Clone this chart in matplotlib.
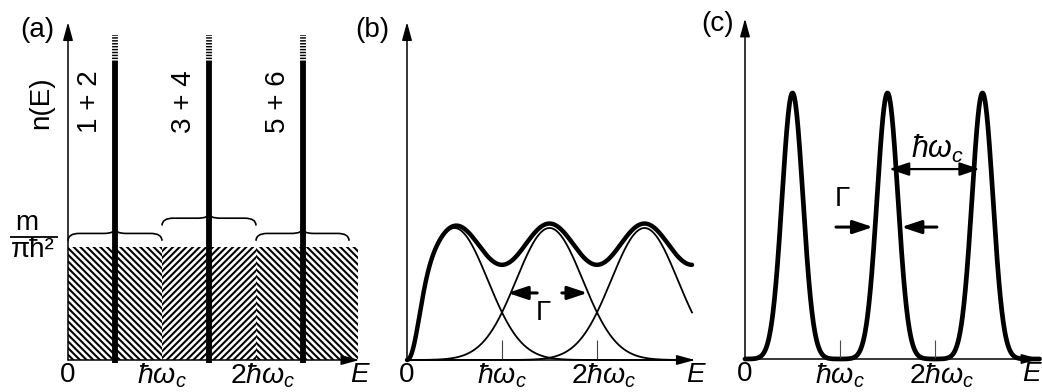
import numpy as np
import matplotlib
matplotlib.use("Agg")
import matplotlib.pyplot as plt
from matplotlib.path import Path
from matplotlib.patches import PathPatch

plt.rcParams['font.family'] = ['Liberation Sans', 'DejaVu Sans']
plt.rcParams['mathtext.fontset'] = 'custom'
plt.rcParams['mathtext.rm'] = 'Liberation Sans'
plt.rcParams['mathtext.it'] = 'Liberation Sans:italic'
plt.rcParams['mathtext.bf'] = 'Liberation Sans:bold'
plt.rcParams['hatch.linewidth'] = 1.5

# ---------------- data ----------------
# energies in units of hbar*omega_c
tick_pos = [0, 1, 2]
tick_labels = ['0', r'$\hbar\omega_c$', r'$2\hbar\omega_c$']

# panel (a): delta-like Landau levels on top of constant 2D DOS
levels_a = [0.5, 1.5, 2.5]
level_labels_a = ['1 + 2', '3 + 4', '5 + 6']
dos_level = 1.0                  # m / (pi hbar^2)
bar_top = 2.64
bar_dash_top = 2.88
hatch_edges = [0.0, 1.0, 2.0, 3.08]
hatch_styles = ['\\\\\\\\\\', '/////', '\\\\\\\\\\']
brace_left = [0.0, 1.0, 2.0]
brace_right = [1.0, 2.0, 2.99]
brace_level = [1.12, 1.255, 1.12]

# panel (b): broadened levels, width comparable to spacing
centers_b = [0.5, 1.5, 2.5, 3.5]
n_shown_b = 3
sigma_b = 0.35
onset_b = 0.14
gamma_b = [1.06, 1.90]            # arrow heads (half max)
gamma_b_tails = [1.37, 1.63]
gamma_b_y = 0.508

# panel (c): narrow levels
centers_c = [0.5, 1.5, 2.5]
sigma_c = 0.11
gamma_c = [1.347, 1.646]
gamma_c_tails = [0.958, 2.02]
gamma_c_y = 0.496
spacing_c = [1.516, 2.47]
spacing_c_y = 0.714

# ---------------- figure ----------------
W, H = 1042, 392
fig = plt.figure(figsize=(W / 100, H / 100), dpi=100)
FS = 20
FS_MATH = 20.5


def panel(px0, px1, ox, oy, sx, sy):
    ax = fig.add_axes([px0 / W, 0, (px1 - px0) / W, 1])
    ax.set_xlim((px0 - ox) / sx, (px1 - ox) / sx)
    ax.set_ylim((oy - H) / sy, oy / sy)
    ax.axis('off')
    ax.patch.set_alpha(0)
    return ax


def axes_arrows(ax, xtip, ytip):
    ap = dict(arrowstyle='-|>,head_length=1.1,head_width=0.3', color='black',
              lw=1.1, shrinkA=0, shrinkB=0, mutation_scale=10)
    ax.annotate('', xy=(0, ytip), xytext=(0, 0), arrowprops=ap)
    ax.annotate('', xy=(xtip, 0), xytext=(0, 0), arrowprops=ap)


def ticklabels(ax, sy, elabel_x):
    ytxt = -2 / sy
    for p, lab in zip(tick_pos, tick_labels):
        off = 0.07 if p == 2 else 0.0
        fs = FS if p == 0 else FS_MATH
        ax.text(p + off, ytxt, lab, fontsize=fs, ha='center', va='top')
    ax.text(elabel_x, ytxt, 'E', fontsize=FS, fontstyle='italic', ha='center', va='top')


def gauss(E, c, s):
    return np.exp(-(E - c) ** 2 / (2 * s ** 2))


def brace(ax, x0, x1, yf, drop=0.065, rise=0.045, r=0.12):
    xm = 0.5 * (x0 + x1)
    ye, yt = yf - drop, yf + rise
    verts = [(x0, ye), (x0, yf), (x0 + r, yf), (xm - r, yf),
             (xm, yf), (xm, yt), (xm, yf), (xm + r, yf),
             (x1 - r, yf), (x1, yf), (x1, ye)]
    codes = [Path.MOVETO, Path.CURVE3, Path.CURVE3, Path.LINETO,
             Path.CURVE3, Path.CURVE3, Path.CURVE3, Path.CURVE3,
             Path.LINETO, Path.CURVE3, Path.CURVE3]
    ax.add_patch(PathPatch(Path(verts, codes), fill=False, lw=1.2, color='black'))


# ---------- (a) ----------
sy_a = 113
axa = panel(0, 372, 68, 360, 94, sy_a)
for e0, e1, h in zip(hatch_edges[:-1], hatch_edges[1:], hatch_styles):
    axa.fill_between([e0, e1], 0, dos_level, facecolor='white', edgecolor='black',
                     hatch=h, linewidth=0)
for b0, b1, yl in zip(brace_left, brace_right, brace_level):
    brace(axa, b0, b1, yl)
axa.vlines(levels_a, -0.03, bar_top, color='black', lw=4.2)
axa.vlines(levels_a, bar_top, bar_dash_top, color='black', lw=4.2,
           linestyles=[(0, (0.25, 0.25))])
for x, lab in zip(levels_a, level_labels_a):
    axa.text(x - 0.27, 2.29, lab, fontsize=FS, rotation=90, ha='center', va='center')
axes_arrows(axa, 3.1, 2.99)
ticklabels(axa, sy_a, 3.1)
axa.text(-0.29, 2.28, 'n(E)', fontsize=FS, rotation=90, ha='center', va='center')
axa.text(-0.33, 2.92, '(a)', fontsize=FS, ha='center', va='center')
axa.text(-0.44, 1.21, 'm', fontsize=FS, ha='center', va='center')
axa.plot([-0.62, -0.105], [1.09, 1.09], color='black', lw=1.3, solid_capstyle='butt')
axa.text(-0.37, 0.97, 'πħ²', fontsize=FS, ha='center', va='center')

# ---------- (b) ----------
sy_b = 132
axb = panel(345, 712, 407, 360, 95, sy_b)
E = np.linspace(0, 3.0, 600)
onset = 1 - np.exp(-(E / onset_b) ** 2)
comps = [gauss(E, c, sigma_b) * (onset if i == 0 else 1) for i, c in enumerate(centers_b)]
for comp in comps[:n_shown_b]:
    axb.plot(E, comp, color='black', lw=1.3)
axb.plot(E, np.sum(comps, axis=0), color='black', lw=3.2, solid_capstyle='round')
axb.vlines([1, 2], 0, 0.15, color='0.25', lw=0.8)
ap_g = dict(arrowstyle='-|>,head_length=1.2,head_width=0.4', color='black',
            lw=2.2, shrinkA=0, shrinkB=0, mutation_scale=10)
for head, tail in zip(gamma_b, gamma_b_tails):
    axb.annotate('', xy=(head, gamma_b_y), xytext=(tail, gamma_b_y), arrowprops=ap_g)
axb.text(1.44, 0.356, 'Γ', fontsize=FS, ha='center', va='center')
axes_arrows(axb, 3.03, 2.56)
ticklabels(axb, sy_b, 3.04)
axb.text(-0.36, 2.5, '(b)', fontsize=FS, ha='center', va='center')

# ---------- (c) ----------
sy_c = 266
axc = panel(705, 1042, 745, 359, 95, sy_c)
Ec = np.linspace(0, 3.1, 800)
dos_c = np.sum([gauss(Ec, c, sigma_c) for c in centers_c], axis=0)
axc.plot(Ec, dos_c, color='black', lw=3.4, solid_capstyle='round')
axc.vlines([1, 2], 0, 0.07, color='0.3', lw=0.8)
for head, tail in zip(gamma_c, gamma_c_tails):
    axc.annotate('', xy=(head, gamma_c_y), xytext=(tail, gamma_c_y), arrowprops=ap_g)
axc.annotate('', xy=(spacing_c[1], spacing_c_y), xytext=(spacing_c[0], spacing_c_y),
             arrowprops=dict(arrowstyle='<|-|>,head_length=1.2,head_width=0.4',
                             color='black', lw=1.6, shrinkA=0, shrinkB=0, mutation_scale=10))
axc.text(1.03, 0.6, 'Γ', fontsize=FS, ha='center', va='center')
axc.text(2.03, 0.79, r'$\hbar\omega_c$', fontsize=22, ha='center', va='center')
axes_arrows(axc, 3.1, 1.28)
ticklabels(axc, sy_c, 3.01)
axc.text(-0.29, 1.26, '(c)', fontsize=FS, ha='center', va='center')

fig.savefig('out.png', dpi=100, facecolor='white')
